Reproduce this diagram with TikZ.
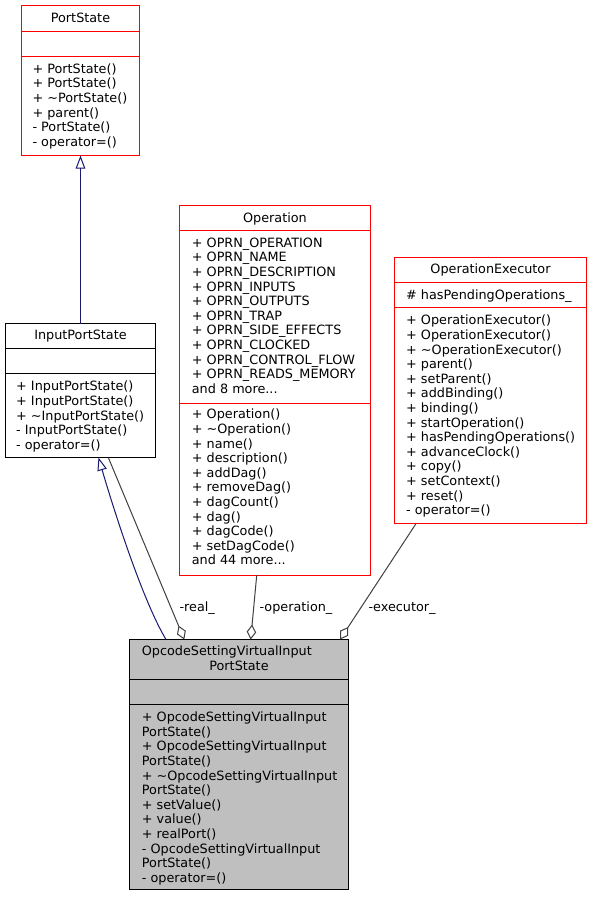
\documentclass[tikz,border=0pt]{standalone}
\usepackage{fontspec}
\setmainfont{DejaVu Sans}
\usetikzlibrary{arrows.meta,calc}
\newcommand\dxfont{\fontsize{12.8}{14.6}\selectfont}
\definecolor{dxblue}{HTML}{191970}
\definecolor{dxgrey}{HTML}{404040}
\definecolor{dxfill}{HTML}{BFBFBF}
\begin{document}
\begin{tikzpicture}[x=1pt,y=-1pt,
  box/.style={draw, rectangle, inner sep=0pt, outer sep=0pt, line width=1pt, fill=white},
  redbox/.style={box, draw=red},
  blackbox/.style={box, draw=black},
  txt/.style={inner sep=0pt, font=\dxfont, align=left, anchor=north west},
  head/.style={inner sep=0pt, font=\dxfont, anchor=north},
  lbl/.style={inner sep=0pt, font=\dxfont, anchor=base},
  sep/.style={line width=1pt},
  inh/.style={draw=dxblue, line width=1pt, -{Triangle[open, length=13pt, width=9.5pt]}},
  agg/.style={draw=dxgrey, line width=1pt, -{Diamond[open, length=15pt, width=9.5pt]}},
]
\fill[white] (0,0) rectangle (593,897);
\useasboundingbox (0,0) rectangle (593,897);

% ---------- PortState ----------
\node[redbox, minimum width=118pt, minimum height=150pt] (ps) at (80.5,80.5) {};
\draw[red, sep] ($(ps.north west)+(0,26)$) -- ($(ps.north east)+(0,26)$);
\draw[red, sep] ($(ps.north west)+(0,51)$) -- ($(ps.north east)+(0,51)$);
\node[head] (psh) at (80.5,12.2) {\strut PortState};
\node[txt] (psm) at (32.3,62.8) {\strut + PortState()\\+ PortState()\\+ \textasciitilde PortState()\\+ parent()\\- PortState()\\- operator=()};

% ---------- InputPortState ----------
\node[blackbox, minimum width=150pt, minimum height=134pt] (ips) at (80.5,390.5) {};
\draw[sep] ($(ips.north west)+(0,25)$) -- ($(ips.north east)+(0,25)$);
\draw[sep] ($(ips.north west)+(0,50)$) -- ($(ips.north east)+(0,50)$);
\node[head] (ipsh) at (80.5,329.5) {\strut InputPortState};
\node[txt] (ipsm) at (16,380.5) {\strut + InputPortState()\\+ InputPortState()\\+ \textasciitilde InputPortState()\\- InputPortState()\\- operator=()};

% ---------- Operation ----------
\node[redbox, minimum width=191pt, minimum height=370pt] (op) at (275,390.5) {};
\draw[red, sep] ($(op.north west)+(0,25)$) -- ($(op.north east)+(0,25)$);
\draw[red, sep] ($(op.north west)+(0,198)$) -- ($(op.north east)+(0,198)$);
\node[head] (oph) at (275,212.2) {\strut Operation};
\node[txt] (opa) at (191.7,236.8) {\strut + OPRN\_OPERATION\\+ OPRN\_NAME\\+ OPRN\_DESCRIPTION\\+ OPRN\_INPUTS\\+ OPRN\_OUTPUTS\\+ OPRN\_TRAP\\+ OPRN\_SIDE\_EFFECTS\\+ OPRN\_CLOCKED\\+ OPRN\_CONTROL\_FLOW\\+ OPRN\_READS\_MEMORY\\and 8 more...};
\node[txt] (opm) at (191.7,408.5) {\strut + Operation()\\+ \textasciitilde Operation()\\+ name()\\+ description()\\+ addDag()\\+ removeDag()\\+ dagCount()\\+ dag()\\+ dagCode()\\+ setDagCode()\\and 44 more...};

% ---------- OperationExecutor ----------
\node[redbox, minimum width=192pt, minimum height=266pt] (oe) at (490.5,390.5) {};
\draw[red, sep] ($(oe.north west)+(0,25)$) -- ($(oe.north east)+(0,25)$);
\draw[red, sep] ($(oe.north west)+(0,50)$) -- ($(oe.north east)+(0,50)$);
\node[head] (oeh) at (490.5,262.8) {\strut OperationExecutor};
\node[txt] (oea) at (406,289.5) {\strut \# hasPendingOperations\_};
\node[txt] (oem) at (406,314.5) {\strut + OperationExecutor()\\+ OperationExecutor()\\+ \textasciitilde OperationExecutor()\\+ parent()\\+ setParent()\\+ addBinding()\\+ binding()\\+ startOperation()\\+ hasPendingOperations()\\+ advanceClock()\\+ copy()\\+ setContext()\\+ reset()\\- operator=()};

% ---------- OpcodeSettingVirtualInputPortState ----------
\node[blackbox, fill=dxfill, minimum width=219pt, minimum height=250pt] (opc) at (239,764.5) {};
\draw[sep] ($(opc.north west)+(0,40)$) -- ($(opc.north east)+(0,40)$);
\draw[sep] ($(opc.north west)+(0,65)$) -- ($(opc.north east)+(0,65)$);
\node[txt] (opch1) at (141.7,645.2) {\strut OpcodeSettingVirtualInput};
\node[head] (opch2) at (239,659.8) {\strut PortState};
\node[txt] (opcm) at (141.7,711.2) {\strut + OpcodeSettingVirtualInput\\PortState()\\+ OpcodeSettingVirtualInput\\PortState()\\+ \textasciitilde OpcodeSettingVirtualInput\\PortState()\\+ setValue()\\+ value()\\+ realPort()\\- OpcodeSettingVirtualInput\\PortState()\\- operator=()};

% ---------- connectors ----------
\draw[inh] (ips.north) -- (ps.south);

\coordinate (opcA) at ($(opc.north west)+(36.5,0)$);
\coordinate (ipsB) at ($(ips.south west)+(93,0)$);
\draw[inh] (opcA) .. controls +(-24,-40) and +(14,48) .. (ipsB);

\coordinate (ipsR) at ($(ips.south west)+(102.8,0)$);
\coordinate (opcR) at ($(opc.north west)+(54.8,0)$);
\draw[agg] (ipsR) -- (opcR);
\node[lbl] (lreal) at (197.2,611.4) {-real\_};

\coordinate (opB) at ($(op.south west)+(77.2,0)$);
\coordinate (opcO) at ($(opc.north west)+(121.2,0)$);
\draw[agg] (opB) -- (opcO);
\node[lbl] (lop) at (296,611.4) {-operation\_};

\coordinate (oeB) at ($(oe.south west)+(21.6,0)$);
\coordinate (opcE) at ($(opc.north west)+(210.5,0)$);
\draw[agg] (oeB) -- (opcE);
\node[lbl] (lex) at (402.1,611.4) {-executor\_};
\end{tikzpicture}
\end{document}
